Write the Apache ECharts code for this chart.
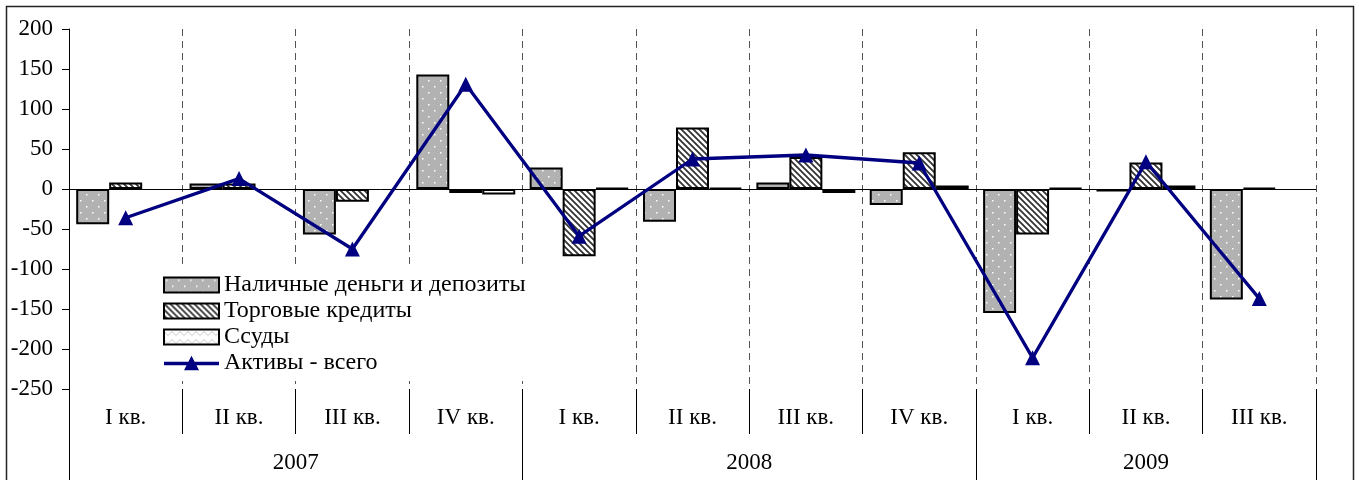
<!DOCTYPE html>
<html>
<head>
<meta charset="utf-8">
<script src="https://cdn.jsdelivr.net/npm/echarts@6/dist/echarts.min.js"></script>
<style>
html,body{margin:0;padding:0;background:#fff;}
#chart{width:1359px;height:480px;}
</style>
</head>
<body>
<div id="chart"></div>
<script>
// ---- data ----
const quarters = ['I кв.', 'II кв.', 'III кв.', 'IV кв.', 'I кв.', 'II кв.', 'III кв.', 'IV кв.', 'I кв.', 'II кв.', 'III кв.'];
const years = ['2007', '2008', '2009'];
const quartersPerYear = [4, 4, 3];
const cashDeposits = [-44, 7, -57, 143, 27, -41, 8, -20, -155, -3, -138];
const tradeCredits = [8, 7, -16, -5, -84, 77, 40, 46, -57, 33, 1.5];
const loans = [null, null, null, -7, 1, 1.5, -5, 4.5, 1, 4.5, null];
const totalAssets = [-36, 13, -75, 131, -59, 37.5, 42.5, 32.5, -211, 34, -137];
const seriesNames = ['Наличные деньги и депозиты', 'Торговые кредиты', 'Ссуды', 'Активы - всего'];
const yTicks = { min: -250, max: 200, step: 50 };

// year boundaries / centers derived from quarter counts
const yearBounds = [0];
quartersPerYear.forEach((n, i) => yearBounds.push(yearBounds[i] + n));
const yearCenters = years.map((y, i) => (yearBounds[i] + yearBounds[i + 1]) / 2);

// ---- patterns ----
function makePattern(size, draw) {
  const c = document.createElement('canvas');
  c.width = size; c.height = size;
  const ctx = c.getContext('2d');
  draw(ctx, size);
  return { image: c, repeat: 'repeat' };
}
const dotPattern = makePattern(12, (ctx, s) => {
  ctx.fillStyle = '#b2b2b2'; ctx.fillRect(0, 0, s, s);
  ctx.fillStyle = '#ffffff';
  ctx.fillRect(2, 2, 1.5, 1.5);
  ctx.fillRect(8, 8, 1.5, 1.5);
});
const hatchPattern = makePattern(6, (ctx, s) => {
  ctx.fillStyle = '#ffffff'; ctx.fillRect(0, 0, s, s);
  ctx.strokeStyle = '#333333'; ctx.lineWidth = 1.8;
  ctx.beginPath();
  ctx.moveTo(-1, -1); ctx.lineTo(s + 1, s + 1);
  ctx.moveTo(s - 1, -1); ctx.lineTo(s + 1, 1);
  ctx.moveTo(-1, s - 1); ctx.lineTo(1, s + 1);
  ctx.stroke();
});
const zigPattern = makePattern(8, (ctx, s) => {
  ctx.fillStyle = '#ffffff'; ctx.fillRect(0, 0, s, s);
  ctx.strokeStyle = '#c8c8c8'; ctx.lineWidth = 1;
  ctx.beginPath();
  ctx.moveTo(0, 2); ctx.lineTo(4, 6); ctx.lineTo(8, 2);
  ctx.stroke();
});

const FONT = "'Liberation Serif', 'Times New Roman', serif";
const LINE_COLOR = '#000080';
const chart = echarts.init(document.getElementById('chart'), null, { renderer: 'canvas' });

function barSeries(name, data, color) {
  return {
    name: name, type: 'bar', data: data,
    xAxisIndex: 0, yAxisIndex: 0,
    barGap: '0%', barCategoryGap: '12.7%',
    itemStyle: { color: color, borderColor: '#000', borderWidth: 2 },
    emphasis: { disabled: true },
    animation: false
  };
}

const option = {
  animation: false,
  backgroundColor: '#fff',
  textStyle: { fontFamily: FONT },
  grid: { left: 69, right: 43, top: 29, bottom: 91, containLabel: false, outerBoundsMode: 'none' },
  legend: {
    orient: 'vertical', left: 157, top: 268,
    backgroundColor: '#fff', padding: [5, 10, 6, 6],
    itemWidth: 55, itemHeight: 15, itemGap: 2,
    textStyle: { fontFamily: FONT, fontSize: 24, color: '#000' },
    data: [
      { name: seriesNames[0], icon: 'rect' },
      { name: seriesNames[1], icon: 'rect' },
      { name: seriesNames[2], icon: 'rect' },
      { name: seriesNames[3], icon: 'path://M0,6L55,6L55,9.4L0,9.4Z M27.5,0L35,14.5L20,14.5Z',
        itemStyle: { color: LINE_COLOR, borderWidth: 0 } }
    ]
  },
  xAxis: [
    {
      type: 'category', data: quarters, position: 'bottom', gridIndex: 0,
      axisLine: { show: false, onZero: false },
      axisTick: { show: true, interval: 0, length: 45, alignWithLabel: false, lineStyle: { color: '#000', width: 1 } },
      axisLabel: { interval: 0, margin: 17, fontFamily: FONT, fontSize: 23, color: '#000' },
      splitLine: { show: true, interval: 0, lineStyle: { color: '#555', width: 1, type: [7, 5] } }
    },
    {
      type: 'value', min: 0, max: quarters.length, position: 'bottom', gridIndex: 0,
      axisLine: { show: false, onZero: false },
      axisTick: { show: true, customValues: yearBounds, length: 91, lineStyle: { color: '#000', width: 1 } },
      axisLabel: {
        customValues: yearCenters, margin: 62, fontFamily: FONT, fontSize: 23, color: '#000',
        formatter: function (v) { const i = yearCenters.indexOf(v); return i >= 0 ? years[i] : ''; }
      },
      splitLine: { show: false }
    }
  ],
  yAxis: {
    type: 'value', min: yTicks.min, max: yTicks.max, interval: yTicks.step,
    axisLine: { show: true, lineStyle: { color: '#000', width: 1 } },
    axisTick: { show: true, length: 7, lineStyle: { color: '#000' } },
    axisLabel: { margin: 16, fontFamily: FONT, fontSize: 23, color: '#000' },
    splitLine: { show: false }
  },
  series: [
    Object.assign(barSeries(seriesNames[0], cashDeposits, dotPattern), {
      markLine: {
        silent: true, symbol: 'none', label: { show: false },
        lineStyle: { color: '#000', width: 1, type: 'solid' },
        data: [{ yAxis: 0 }], animation: false
      }
    }),
    barSeries(seriesNames[1], tradeCredits, hatchPattern),
    barSeries(seriesNames[2], loans, zigPattern),
    {
      name: seriesNames[3], type: 'line', data: totalAssets,
      xAxisIndex: 0, yAxisIndex: 0,
      symbol: 'triangle', symbolSize: 15,
      lineStyle: { color: LINE_COLOR, width: 3.3 },
      itemStyle: { color: LINE_COLOR },
      z: 5, emphasis: { disabled: true }, animation: false
    }
  ],
  graphic: [
    { type: 'rect', z: 100, silent: true,
      shape: { x: 6.5, y: 6.5, width: 1347, height: 485 },
      style: { fill: null, stroke: '#222', lineWidth: 1.5 } }
  ]
};
chart.setOption(option);
</script>
</body>
</html>
